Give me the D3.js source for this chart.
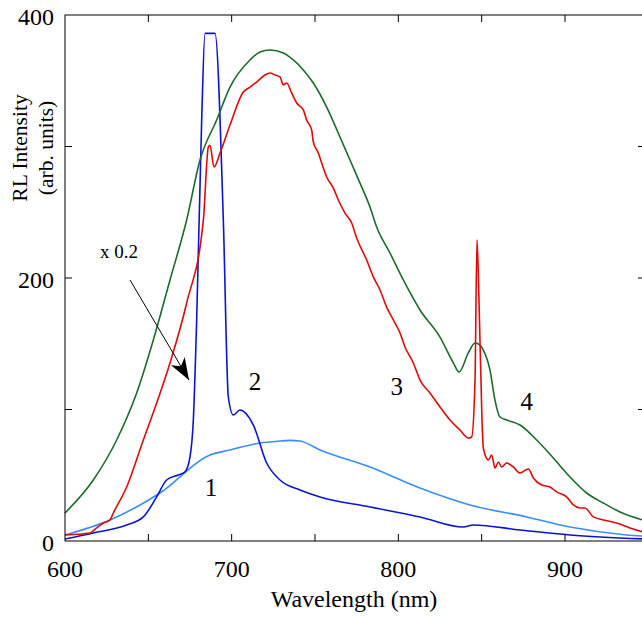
<!DOCTYPE html>
<html>
<head>
<meta charset="utf-8">
<script src="https://cdn.jsdelivr.net/npm/d3@7"></script>
<style>
  body { margin: 0; background: #fff; }
  svg text { font-family: "Liberation Serif", "Times New Roman", serif; }
</style>
</head>
<body>
<div id="chart"></div>
<script>
const width = 642;
const height = 617;

// wavelength (nm) / intensity pairs
const curve1 = [[600,4.6],[627,16],[657,36.5],[687,65.4],[699,69.2],[717,74.5],[729,76],[735,76.5],
  [741,76],[753,69.2],[783,56.3],[813,40.3],[843,27.4],[877,18.3],[903,10.6],[937,4.6],[948,3.6]];
const curve2 = [[600,1.5],[617,6.1],[637,12.2],[647,18.3],[655,33.5],[661,46.4],[668,50.2],[672,52.5],
  [675,63.9],[677,92],[679,168],[682,320],[684,386],[690,386],[695,244],[698,109.5],[701,95.8],
  [705,99.6],[713,88.2],[721,59.3],[729,46.4],[741,38.8],[753,33.5],[783,25.9],[813,18.3],[839,10.6],
  [845,12.2],[873,8.4],[903,4.6],[948,1.5]];
const curve3 = [[600,4.6],[615,6.1],[619,9.9],[623,13.7],[627,16],[629,21.3],[637,41.1],[647,76.8],
  [655,104.9],[663,135.4],[673,181],[683,244],[686,299.6],[687,301],[689.4,284.4],[693,295],[699,316.3],
  [707,341.4],[711,345.2],[715,349],[720,354.4],[723,355.9],[726,354.4],[729,352.9],[731,346.8],
  [733,348.3],[736,340.7],[739,333.1],[743,327.8],[745,320.2],[748,312.5],[749,303.4],[752,295.1],
  [754,287.5],[757,276.8],[761,268.4],[764,259.3],[768,249.4],[772,241.8],[775,230.4],[781,213.7],
  [785,200.8],[789,190.9],[793,177.9],[797,168.1],[801,158.2],[804,147.5],[809,135.4],[813,122.4],
  [819,112.5],[825,101.9],[831,92],[837,84.4],[842,78.3],[844,79.1],[846,122],[847.2,229],[848.4,183],
  [850.2,92],[851,70.7],[854,61.6],[856,65.4],[858,55.5],[860,60.1],[862,56.3],[865,59.3],[869,56.3],
  [873,51.7],[878,54.8],[881,47.9],[886,42.6],[891,41.1],[895,37.3],[901,33.5],[905,27.4],[909,25.1],
  [912,25.1],[917,18.3],[923,16],[931,13.7],[939,9.9],[948,6.5]];
const curve4 = [[600,21.3],[617,46.4],[631,76.8],[643,112.5],[653,152.9],[663,198.5],[673,244.1],
  [681,289.7],[691,320.2],[699,345.2],[711,365.8],[717,371.9],[723,373.4],[731,371.1],[737,365.8],
  [743,358.2],[749,348.3],[757,330],[765,307.2],[771,289.7],[777,272.2],[783,254],[787,238.8],[795,219],
  [803,198.5],[813,175.7],[825,155.1],[833,135.4],[836.4,128.5],[842,143],[846,150.6],[849,149],
  [851,145.2],[855,130],[858,107],[861,94.3],[865,92],[873,88.2],[883,76.8],[893,63.1],[903,48.7],
  [913,36.5],[923,28.9],[933,22.1],[948,15.5]];

const series = [
  { data: curve1, color: "#3a8cff" },
  { data: curve2, color: "#0a14d2" },
  { data: curve4, color: "#1c6b2c" },
  { data: curve3, color: "#e00a0a" }
];

const xTicks = [600, 700, 800, 900];
const yTicks = [0, 200, 400];
const curveLabels = [["1", 687.6, 34], ["2", 714, 115], ["3", 799, 111], ["4", 877, 100]];

const margin = { left: 65, top: 15, right: -3, bottom: 76 };

const x = d3.scaleLinear().domain([600, 948]).range([margin.left, width - margin.right]);
const y = d3.scaleLinear().domain([0, 400]).range([height - margin.bottom, margin.top]);

const svg = d3.select("#chart").append("svg")
  .attr("width", width)
  .attr("height", height);

// curves
const line = d3.line().x(d => x(d[0])).y(d => y(d[1])).curve(d3.curveMonotoneX);
svg.append("g").selectAll("path")
  .data(series)
  .enter().append("path")
    .attr("d", d => line(d.data))
    .attr("fill", "none")
    .attr("stroke", d => d.color)
    .attr("stroke-width", 1.6)
    .attr("stroke-linejoin", "round");

// frame with inward ticks
const tickLen = 7;
const frame = svg.append("g").attr("stroke", "#000").attr("stroke-width", 1).attr("fill", "none");
frame.append("rect")
  .attr("x", x(600)).attr("y", y(400))
  .attr("width", x(948) - x(600)).attr("height", y(0) - y(400));

const xMinor = d3.range(650, 948, 50);
const yMinor = d3.range(100, 400, 100);
frame.selectAll(".xb").data(xMinor).enter().append("line")
  .attr("x1", d => x(d)).attr("x2", d => x(d))
  .attr("y1", y(0)).attr("y2", y(0) - tickLen);
frame.selectAll(".xt").data(xMinor).enter().append("line")
  .attr("x1", d => x(d)).attr("x2", d => x(d))
  .attr("y1", y(400)).attr("y2", y(400) + tickLen);
frame.selectAll(".yl").data(yMinor).enter().append("line")
  .attr("x1", x(600)).attr("x2", x(600) + tickLen)
  .attr("y1", d => y(d)).attr("y2", d => y(d));
frame.selectAll(".yr").data(yMinor).enter().append("line")
  .attr("x1", x(948)).attr("x2", x(948) - tickLen)
  .attr("y1", d => y(d)).attr("y2", d => y(d));

// tick labels
svg.selectAll(".xl").data(xTicks).enter().append("text")
  .attr("x", d => x(d)).attr("y", y(0) + 36)
  .attr("text-anchor", "middle")
  .attr("font-size", 24)
  .text(d => d);
svg.selectAll(".ylab").data(yTicks).enter().append("text")
  .attr("x", x(600) - 11).attr("y", d => y(d) + 10)
  .attr("text-anchor", "end")
  .attr("font-size", 24)
  .text(d => d);

// axis titles
svg.append("text")
  .attr("x", 354).attr("y", 607)
  .attr("text-anchor", "middle")
  .attr("font-size", 24)
  .text("Wavelength (nm)");

const yTitle = svg.append("text")
  .attr("transform", "translate(0,148) rotate(-90)")
  .attr("text-anchor", "middle")
  .attr("font-size", 21.5);
yTitle.append("tspan").attr("x", 0).attr("y", 27).text("RL Intensity");
yTitle.append("tspan").attr("x", 0).attr("y", 53).text("(arb. units)");

// curve numbers
svg.selectAll(".cl").data(curveLabels).enter().append("text")
  .attr("x", d => x(d[1])).attr("y", d => y(d[2]))
  .attr("text-anchor", "middle")
  .attr("font-size", 25)
  .text(d => d[0]);

// "x 0.2" note with arrow
svg.append("text")
  .attr("x", x(621)).attr("y", y(215))
  .attr("font-size", 19)
  .text("x 0.2");

svg.append("defs").append("marker")
  .attr("id", "head")
  .attr("viewBox", "0 0 22 16")
  .attr("refX", 22).attr("refY", 8)
  .attr("markerWidth", 22).attr("markerHeight", 16)
  .attr("markerUnits", "userSpaceOnUse")
  .attr("orient", "auto")
  .append("path").attr("d", "M0,0 L22,8 L0,16 L6,8 Z").attr("fill", "#000");

svg.append("line")
  .attr("x1", x(639)).attr("y1", y(198.5))
  .attr("x2", x(674.4)).attr("y2", y(122.4))
  .attr("stroke", "#000").attr("stroke-width", 1)
  .attr("marker-end", "url(#head)");
</script>
</body>
</html>
